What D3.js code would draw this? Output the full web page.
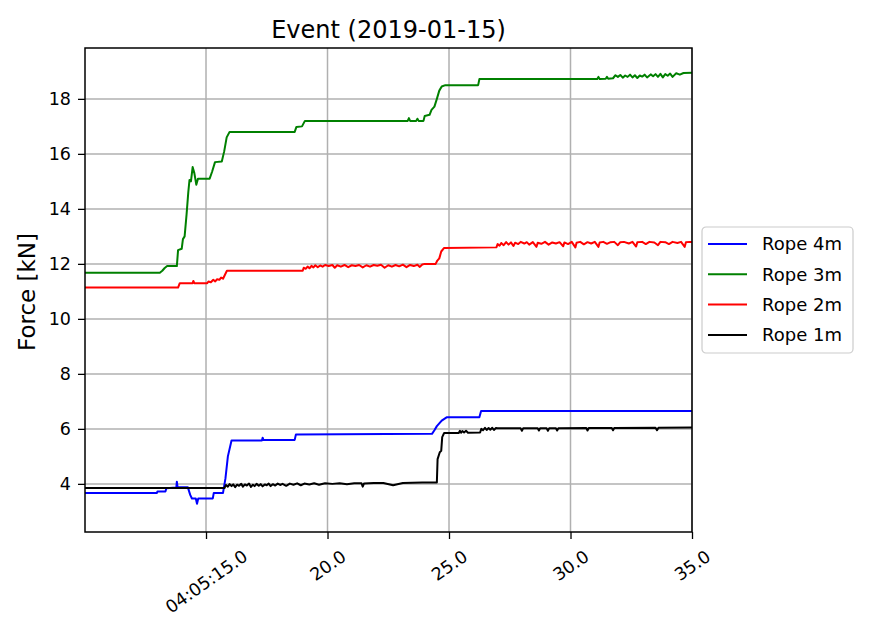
<!DOCTYPE html>
<html>
<head>
<meta charset="utf-8">
<script src="https://cdn.jsdelivr.net/npm/d3@7"></script>
<style>
body { margin: 0; background: #fff; }
svg text { font-family: "DejaVu Sans", sans-serif; fill: #000; }
</style>
</head>
<body>
<svg id="viz"></svg>
<script>
// data: [seconds after 04:05:00, force kN]
var rope4 = [[10.02,3.67],[12.98,3.67],[13.0,3.72],[13.33,3.72],[13.37,3.84],[13.78,3.87],[13.8,4.08],[13.83,3.88],[14.25,3.88],[14.35,3.6],[14.42,3.47],[14.58,3.47],[14.63,3.28],[14.68,3.47],[15.28,3.47],[15.32,3.67],[15.7,3.67],[15.8,4.2],[15.9,5.0],[16.05,5.58],[17.3,5.58],[17.33,5.68],[17.36,5.6],[18.65,5.6],[18.7,5.8],[24.3,5.82],[24.4,5.95],[24.5,6.1],[24.6,6.2],[24.7,6.3],[24.9,6.42],[26.25,6.42],[26.32,6.65],[35.0,6.65]];

var rope3 = [[10.02,11.68],[13.1,11.68],[13.2,11.75],[13.3,11.85],[13.4,11.92],[13.8,11.92],[13.85,12.5],[14.0,12.55],[14.05,12.9],[14.12,13.0],[14.2,13.8],[14.27,14.6],[14.32,15.05],[14.38,15.0],[14.45,15.52],[14.52,15.3],[14.6,14.88],[14.67,15.1],[15.15,15.1],[15.25,15.35],[15.37,15.7],[15.65,15.72],[15.75,16.1],[15.85,16.6],[15.97,16.8],[18.65,16.8],[18.72,16.98],[18.95,17.0],[19.07,17.2],[23.3,17.2],[23.35,17.3],[23.4,17.2],[23.65,17.2],[23.7,17.28],[23.75,17.2],[23.95,17.2],[24.0,17.38],[24.2,17.42],[24.28,17.6],[24.4,17.72],[24.5,18.0],[24.6,18.3],[24.7,18.45],[24.85,18.5],[26.2,18.5],[26.25,18.72],[31.1,18.72],[31.15,18.8],[31.2,18.72],[31.45,18.73],[31.5,18.8],[31.55,18.73],[31.75,18.75],[31.85,18.86],[31.95,18.8],[32.05,18.87],[32.15,18.77],[32.25,18.85],[32.35,18.8],[32.45,18.88],[32.55,18.78],[32.65,18.86],[32.75,18.76],[32.85,18.85],[32.95,18.81],[33.05,18.88],[33.15,18.78],[33.3,18.89],[33.4,18.82],[33.5,18.9],[33.6,18.8],[33.7,18.91],[33.8,18.78],[33.9,18.9],[34.0,18.84],[34.1,18.92],[34.2,18.8],[34.35,18.93],[34.5,18.88],[34.65,18.94],[35.0,18.95]];

var rope2 = [[10.02,11.14],[13.85,11.14],[13.92,11.3],[14.45,11.3],[14.48,11.38],[14.52,11.3],[15.05,11.3],[15.1,11.36],[15.2,11.33],[15.3,11.42],[15.38,11.36],[15.45,11.44],[15.55,11.42],[15.62,11.5],[15.7,11.46],[15.86,11.75],[18.98,11.75],[19.02,11.86],[19.1,11.82],[19.18,11.9],[19.26,11.84],[19.34,11.93],[19.42,11.87],[19.5,11.95],[19.6,11.88],[19.7,11.94],[19.8,11.9],[19.9,11.96],[20.05,11.92],[20.2,11.96],[20.3,11.86],[20.4,11.95],[20.55,11.9],[20.7,11.96],[20.85,11.88],[21.0,11.95],[21.15,11.92],[21.3,11.96],[21.45,11.87],[21.6,11.95],[21.75,11.9],[21.9,11.96],[22.05,11.93],[22.2,11.97],[22.35,11.86],[22.5,11.95],[22.65,11.9],[22.8,11.96],[22.95,11.91],[23.1,11.97],[23.25,11.88],[23.4,11.96],[23.55,11.92],[23.7,11.97],[23.8,11.89],[23.9,11.98],[24.0,12.0],[24.45,12.0],[24.52,12.12],[24.6,12.2],[24.68,12.45],[24.8,12.58],[26.95,12.6],[27.0,12.72],[27.08,12.66],[27.15,12.76],[27.25,12.68],[27.35,12.79],[27.45,12.7],[27.55,12.78],[27.65,12.65],[27.72,12.77],[27.85,12.72],[27.95,12.8],[28.1,12.74],[28.2,12.79],[28.3,12.7],[28.45,12.79],[28.6,12.62],[28.65,12.77],[28.8,12.73],[28.95,12.8],[29.1,12.7],[29.25,12.78],[29.4,12.74],[29.55,12.79],[29.7,12.64],[29.75,12.78],[29.9,12.72],[30.05,12.8],[30.2,12.6],[30.25,12.77],[30.4,12.8],[30.55,12.71],[30.7,12.79],[30.85,12.74],[31.0,12.8],[31.15,12.62],[31.2,12.78],[31.35,12.8],[31.5,12.73],[31.65,12.79],[31.8,12.8],[31.95,12.68],[32.05,12.79],[32.2,12.8],[32.4,12.74],[32.55,12.8],[32.7,12.63],[32.75,12.79],[32.95,12.8],[33.1,12.72],[33.25,12.8],[33.45,12.78],[33.6,12.68],[33.7,12.8],[33.9,12.79],[34.05,12.72],[34.2,12.8],[34.4,12.76],[34.55,12.8],[34.7,12.62],[34.75,12.79],[34.9,12.8],[35.0,12.8]];

var rope1 = [[10.02,3.85],[15.76,3.85],[15.82,3.96],[15.9,3.9],[15.97,3.99],[16.05,3.92],[16.12,3.98],[16.2,3.88],[16.28,3.97],[16.36,3.93],[16.45,4.0],[16.52,3.9],[16.6,3.98],[16.68,3.94],[16.77,4.01],[16.85,3.89],[16.93,3.97],[17.0,3.92],[17.08,4.0],[17.17,3.93],[17.25,3.99],[17.33,3.91],[17.42,3.98],[17.5,3.95],[17.58,4.01],[17.66,3.92],[17.75,3.99],[17.85,3.94],[17.95,4.01],[18.05,3.96],[18.15,4.0],[18.3,3.93],[18.45,4.01],[18.6,3.97],[18.75,4.02],[18.9,3.95],[19.05,4.01],[19.25,3.98],[19.45,4.02],[19.65,3.97],[19.9,4.02],[20.2,4.0],[20.5,4.02],[20.8,3.99],[21.1,4.02],[21.4,4.02],[21.45,3.9],[21.5,4.01],[21.9,4.03],[22.3,4.03],[22.7,3.95],[23.1,4.03],[23.5,4.04],[23.9,4.05],[24.5,4.05],[24.53,4.9],[24.62,5.15],[24.68,5.2],[24.72,5.7],[24.8,5.85],[25.4,5.85],[25.45,5.93],[25.5,5.86],[25.55,5.92],[25.62,5.87],[25.7,5.93],[25.78,5.86],[26.28,5.87],[26.33,6.0],[26.4,5.95],[26.48,6.04],[26.55,5.96],[26.63,6.03],[26.7,5.97],[26.78,6.04],[26.85,5.96],[26.93,6.03],[27.0,6.02],[27.95,6.02],[28.0,5.93],[28.05,6.02],[28.65,6.02],[28.7,5.94],[28.75,6.02],[29.02,6.02],[29.07,5.93],[29.12,6.02],[29.4,6.02],[29.45,5.94],[29.5,6.02],[30.65,6.03],[30.7,5.94],[30.75,6.03],[31.7,6.03],[31.75,5.95],[31.8,6.03],[33.5,6.04],[33.56,5.95],[33.62,6.04],[35.0,6.05]];

var seriesNames = ["Rope 4m", "Rope 3m", "Rope 2m", "Rope 1m"];
var seriesColors = ["#0000ff", "#008000", "#ff0000", "#000000"];
var seriesData = [rope4, rope3, rope2, rope1];

var xTicks = [15, 20, 25, 30, 35];
var xTickLabels = ["04:05:15.0", "20.0", "25.0", "30.0", "35.0"];
var yTicks = [4, 6, 8, 10, 12, 14, 16, 18];

var width = 874;
var height = 619;

var svg = d3.select("#viz")
    .attr("width", width)
    .attr("height", height);

var x = d3.scaleLinear().domain([10.02, 35]).range([85, 692]);
var y = d3.scaleLinear().domain([2.25, 19.85]).range([532, 48]);

// grid
svg.append("g").selectAll("line")
    .data(xTicks)
    .enter().append("line")
    .attr("x1", function(d) { return x(d); })
    .attr("x2", function(d) { return x(d); })
    .attr("y1", y.range()[0])
    .attr("y2", y.range()[1])
    .attr("stroke", "#b0b0b0")
    .attr("stroke-width", 1.5);

svg.append("g").selectAll("line")
    .data(yTicks)
    .enter().append("line")
    .attr("x1", x.range()[0])
    .attr("x2", x.range()[1])
    .attr("y1", function(d) { return y(d); })
    .attr("y2", function(d) { return y(d); })
    .attr("stroke", "#b0b0b0")
    .attr("stroke-width", 1.5);

svg.append("clipPath").attr("id", "clip")
  .append("rect")
    .attr("x", 85).attr("y", 48)
    .attr("width", 607).attr("height", 484);

var line = d3.line()
    .x(function(d) { return x(d[0]); })
    .y(function(d) { return y(d[1]); });

svg.append("g").attr("clip-path", "url(#clip)")
  .selectAll("path")
    .data(seriesData)
    .enter().append("path")
    .attr("d", line)
    .attr("fill", "none")
    .attr("stroke", function(d, i) { return seriesColors[i]; })
    .attr("stroke-width", 2)
    .attr("stroke-linejoin", "round");

// axes
var yAxis = svg.append("g")
    .attr("transform", "translate(85,0)")
    .call(d3.axisLeft(y).tickValues(yTicks).tickSize(7).tickPadding(7).tickFormat(d3.format("d")));
yAxis.select(".domain").remove();
yAxis.selectAll("line").attr("stroke", "#000").attr("stroke-width", 1.3);
yAxis.selectAll("text").attr("font-size", "17.5px").attr("font-family", "DejaVu Sans");

var xAxis = svg.append("g")
    .attr("transform", "translate(0,532)")
    .call(d3.axisBottom(x).tickValues(xTicks).tickSize(7).tickFormat(function(d, i) { return xTickLabels[i]; }));
xAxis.select(".domain").remove();
xAxis.selectAll("line").attr("stroke", "#000").attr("stroke-width", 1.3);

var ang = 35 * Math.PI / 180;
xAxis.selectAll("text")
    .attr("font-size", "17.5px")
    .attr("font-family", "DejaVu Sans")
    .attr("y", null)
    .attr("dy", null)
    .attr("text-anchor", "middle")
    .attr("dominant-baseline", "central")
    .attr("transform", function() {
        var L = this.getComputedTextLength();
        var half = (L * Math.sin(ang) + 13 * Math.cos(ang)) / 2;
        return "translate(0," + (17 + half) + ") rotate(-35)";
    });

// frame
svg.append("rect")
    .attr("x", 85).attr("y", 48)
    .attr("width", 607).attr("height", 484)
    .attr("fill", "none")
    .attr("stroke", "#000")
    .attr("stroke-width", 1.5);

svg.append("text")
    .attr("x", 388.5).attr("y", 38)
    .attr("text-anchor", "middle")
    .attr("font-size", "24px")
    .text("Event (2019-01-15)");

svg.append("text")
    .attr("transform", "translate(35,292) rotate(-90)")
    .attr("text-anchor", "middle")
    .attr("font-size", "23px")
    .text("Force [kN]");

// legend
var legend = svg.append("g").attr("transform", "translate(702,227)");
legend.append("rect")
    .attr("width", 151).attr("height", 126)
    .attr("rx", 4)
    .attr("fill", "#fff")
    .attr("fill-opacity", 0.8)
    .attr("stroke", "#cccccc")
    .attr("stroke-width", 1.2);

var items = legend.selectAll("g.item")
    .data(seriesNames)
    .enter().append("g")
    .attr("class", "item")
    .attr("transform", function(d, i) { return "translate(0," + (17 + i * 30.3) + ")"; });

items.append("line")
    .attr("x1", 6).attr("x2", 45)
    .attr("stroke", function(d, i) { return seriesColors[i]; })
    .attr("stroke-width", 2);

items.append("text")
    .attr("x", 60)
    .attr("dy", "0.35em")
    .attr("font-size", "18px")
    .text(function(d) { return d; });
</script>
</body>
</html>
